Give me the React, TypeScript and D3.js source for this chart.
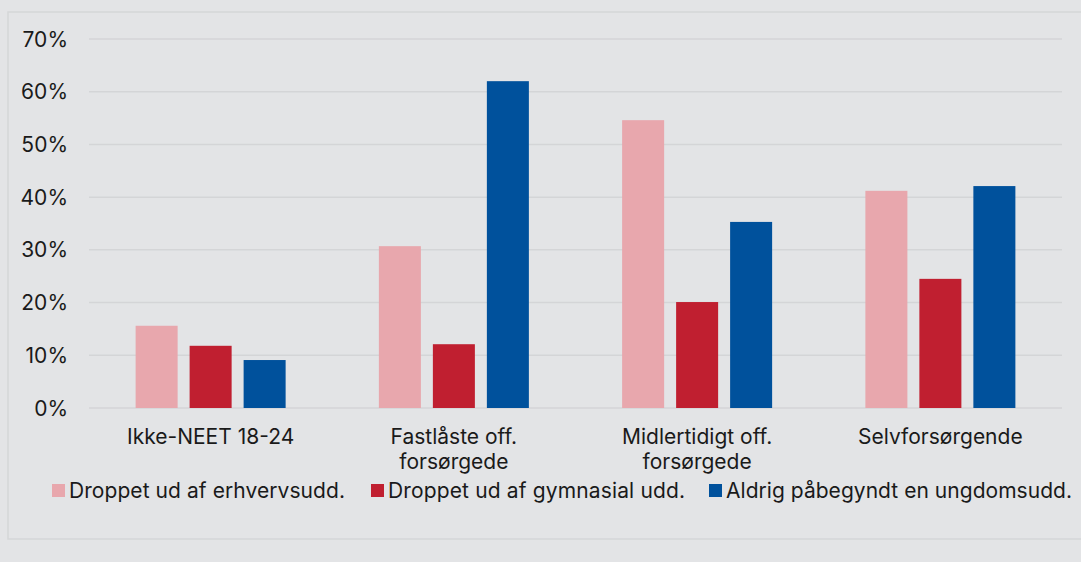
import React from "react";
import * as d3 from "d3";

const categories = [["Ikke-NEET 18-24"], ["Fastlåste off.", "forsørgede"], ["Midlertidigt off.", "forsørgede"], ["Selvforsørgende"]];
const seriesNames = ["Droppet ud af erhvervsudd.", "Droppet ud af gymnasial udd.", "Aldrig påbegyndt en ungdomsudd."];
const erhverv = [15.6, 30.7, 54.6, 41.2];
const gymnasial = [11.8, 12.1, 20.1, 24.5];
const aldrig = [9.1, 62.0, 35.3, 42.1];
const yTicks = [0, 10, 20, 30, 40, 50, 60, 70];
const colors = ["#e8a7ad", "#c01f30", "#00519c"];

export default function App() {
  const W = 1081, H = 562;
  const left = 89, right = 1062, top = 39, bottom = 408;
  const series = [erhverv, gymnasial, aldrig];
  const x = d3.scaleBand<number>().domain(d3.range(categories.length)).range([left, right]);
  const y = d3.scaleLinear().domain([0, 70]).range([bottom, top]);
  const groupW = 150;
  const inner = d3.scaleBand<number>().domain([0, 1, 2]).range([0, groupW]).paddingInner(0.222);
  const font = "Inter, 'Noto Sans', sans-serif";
  const fs = 21;
  const legendX = [52, 371, 709];
  const legendLen = [276, 297, 346];
  return (
    <svg width={W} height={H} style={{ position: "absolute", left: 0, top: 0, background: "#e3e4e6" }} fontFamily={font}>
      <rect x={0} y={0} width={W} height={H} fill="#e3e4e6" />
      <rect x={8} y={12} width={W + 10} height={527} fill="none" stroke="#d5d6d8" strokeWidth={1.5} />
      {yTicks.map((t) => (
        <g key={t}>
          <line x1={left} x2={right} y1={y(t)} y2={y(t)} stroke="#d4d5d7" strokeWidth={1.5} />
          <text x={68} y={y(t)} dy="0.36em" textAnchor="end" fontSize={fs} fill="#1a1a1a">{t}%</text>
        </g>
      ))}
      {categories.map((c, i) => {
        const gx = (x(i) as number) + x.bandwidth() / 2 - groupW / 2;
        return (
          <g key={i}>
            {series.map((s, j) => (
              <rect key={j} x={gx + (inner(j) as number)} width={inner.bandwidth()} y={y(s[i])} height={y(0) - y(s[i])} fill={colors[j]} />
            ))}
            {c.map((line, k) => (
              <text key={k} x={(x(i) as number) + x.bandwidth() / 2} y={444 + k * 25} textAnchor="middle" fontSize={fs} fill="#1a1a1a">{line}</text>
            ))}
          </g>
        );
      })}
      {seriesNames.map((n, j) => (
        <g key={j}>
          <rect x={legendX[j]} y={484} width={13} height={13} fill={colors[j]} />
          <text x={legendX[j] + 17} y={498} fontSize={fs} fill="#1a1a1a" textLength={legendLen[j]} lengthAdjust="spacing">{n}</text>
        </g>
      ))}
    </svg>
  );
}
